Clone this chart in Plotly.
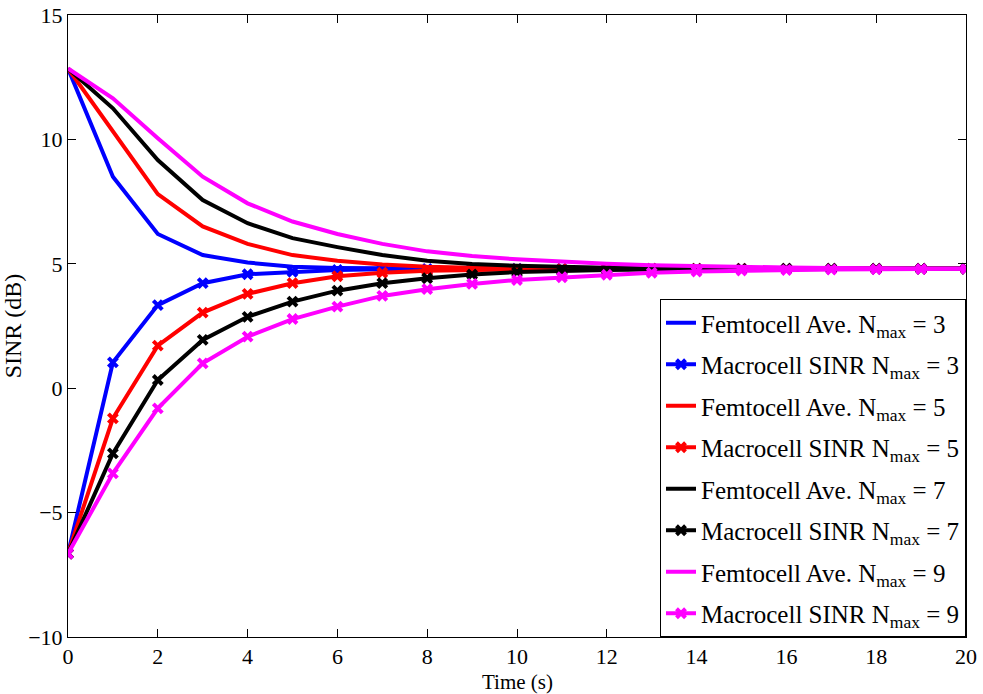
import plotly.graph_objects as go

time = list(range(0, 21))

femto_n3 = [12.85, 8.5, 6.2, 5.35, 5.05, 4.88, 4.83, 4.81, 4.8, 4.8, 4.8, 4.8, 4.8, 4.8, 4.8, 4.8, 4.8, 4.8, 4.8, 4.8, 4.8]
macro_n3 = [-6.65, 1.04, 3.34, 4.22, 4.58, 4.68, 4.75, 4.78, 4.79, 4.8, 4.8, 4.8, 4.8, 4.8, 4.8, 4.8, 4.8, 4.8, 4.8, 4.8, 4.8]
femto_n5 = [12.85, 10.3, 7.8, 6.5, 5.8, 5.35, 5.12, 4.97, 4.88, 4.84, 4.82, 4.81, 4.8, 4.8, 4.8, 4.8, 4.8, 4.8, 4.8, 4.8, 4.8]
macro_n5 = [-6.65, -1.21, 1.71, 3.04, 3.79, 4.22, 4.5, 4.64, 4.72, 4.76, 4.78, 4.79, 4.8, 4.8, 4.8, 4.8, 4.8, 4.8, 4.8, 4.8, 4.8]
femto_n7 = [12.85, 11.25, 9.17, 7.56, 6.63, 6.03, 5.67, 5.35, 5.12, 4.99, 4.92, 4.87, 4.84, 4.82, 4.81, 4.8, 4.8, 4.8, 4.8, 4.8, 4.8]
macro_n7 = [-6.65, -2.62, 0.33, 1.94, 2.87, 3.48, 3.92, 4.22, 4.42, 4.57, 4.67, 4.72, 4.75, 4.77, 4.78, 4.79, 4.8, 4.8, 4.8, 4.8, 4.8]
femto_n9 = [12.85, 11.65, 10.05, 8.5, 7.43, 6.7, 6.2, 5.8, 5.5, 5.31, 5.18, 5.07, 5.0, 4.94, 4.9, 4.87, 4.85, 4.83, 4.82, 4.81, 4.8]
macro_n9 = [-6.65, -3.42, -0.81, 1.0, 2.07, 2.78, 3.28, 3.71, 3.98, 4.19, 4.35, 4.46, 4.56, 4.64, 4.69, 4.73, 4.75, 4.77, 4.78, 4.79, 4.8]

colors = ["#0000ff", "#ff0000", "#000000", "#ff00ff"]
nmax = [3, 5, 7, 9]
femto = [femto_n3, femto_n5, femto_n7, femto_n9]
macro = [macro_n3, macro_n5, macro_n7, macro_n9]

x_ticks = list(range(0, 21, 2))
y_ticks = [-10, -5, 0, 5, 10, 15]
y_labels = ["\u221210", "\u22125", "0", "5", "10", "15"]
x_title = "Time (s)"
y_title = "SINR (dB)"

fig = go.Figure()
for c, n, f, m in zip(colors, nmax, femto, macro):
    fig.add_trace(go.Scatter(
        x=time, y=f, mode="lines",
        line=dict(color=c, width=4),
        name=f"Femtocell Ave. N<sub>max</sub> = {n}",
        legendgroup=f"f{n}",
    ))
    fig.add_trace(go.Scatter(
        x=time, y=m, mode="lines+markers",
        line=dict(color=c, width=4),
        marker=dict(symbol="x-thin", size=9, color=c, line=dict(color=c, width=4)),
        name=f"Macrocell SINR N<sub>max</sub> = {n}",
        legendgroup=f"m{n}",
    ))

font_family = "Liberation Serif"
axis_common = dict(
    showgrid=False, zeroline=False, showline=True, linecolor="black", linewidth=1,
    mirror="ticks", ticks="inside", ticklen=8, tickcolor="black", tickwidth=1,
    automargin=False,
    tickfont=dict(family=font_family, size=22, color="black"),
)

fig.update_layout(
    width=983, height=694,
    margin=dict(l=68, r=17, t=15, b=57),
    paper_bgcolor="white", plot_bgcolor="white",
    font=dict(family=font_family, color="black"),
    xaxis=dict(range=[0, 20], tickvals=x_ticks, ticktext=[str(v) for v in x_ticks],
               **axis_common),
    yaxis=dict(range=[-10, 15], tickvals=y_ticks, ticktext=y_labels,
               title=dict(text=y_title, font=dict(size=24, family=font_family), standoff=0),
               **axis_common),
    legend=dict(x=1, y=0, xanchor="right", yanchor="bottom",
                bgcolor="white", bordercolor="black", borderwidth=1,
                font=dict(family=font_family, size=25, color="black"),
                tracegroupgap=6),
    showlegend=True,
)
fig.add_annotation(
    text=x_title, xref="paper", yref="paper", x=0.5, y=0,
    xanchor="center", yanchor="top", yshift=-32, showarrow=False, borderpad=0,
    font=dict(family=font_family, size=21, color="black"),
)

fig.write_html("out.html")
